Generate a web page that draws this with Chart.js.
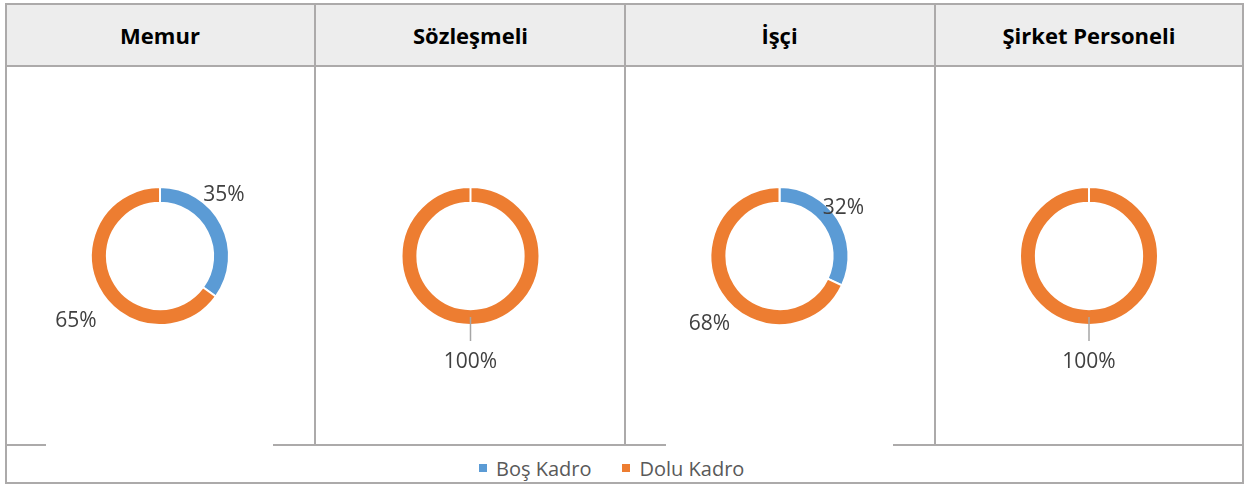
<!DOCTYPE html>
<html lang="tr">
<head>
<meta charset="UTF-8">
<title>Kadro Durumu</title>
<script src="https://cdn.jsdelivr.net/npm/chart.js"></script>
<style>
  body { margin: 0; background: #fff; font-family: "Open Sans", sans-serif; }
  #wrap { position: relative; width: 1244px; height: 486px; overflow: hidden; }
  .abs { position: absolute; }
  .line { position: absolute; background: #acaaaa; }
  .head { position: absolute; top: 5px; height: 60px; display: flex; align-items: center; justify-content: center;
          font-weight: bold; font-size: 22px; color: #000; }
  #legend { position: absolute; left: 479px; top: 454px; height: 28px; display: flex; align-items: center;
            font-size: 20px; color: #595959; }
  #legend .item { display: flex; align-items: center; margin-right: 31px; }
  #legend .sw { width: 8px; height: 8px; margin-right: 9px; }
</style>
</head>
<body>
<div id="wrap">
  <div class="abs" style="left:7px;top:5px;width:1235px;height:60px;background:#ededed"></div>
  <div class="abs" style="left:5px;top:3px;width:1239px;height:481px;border:2px solid #acaaaa;box-sizing:border-box"></div>
  <div class="line" style="left:7px;top:65px;width:1235px;height:2px"></div>
  <div class="line" style="left:7px;top:444px;width:39px;height:2px"></div>
  <div class="line" style="left:273px;top:444px;width:393px;height:2px"></div>
  <div class="line" style="left:893px;top:444px;width:349px;height:2px"></div>
  <div class="line" style="left:314px;top:5px;width:2px;height:441px"></div>
  <div class="line" style="left:624px;top:5px;width:2px;height:441px"></div>
  <div class="line" style="left:934px;top:5px;width:2px;height:441px"></div>
  <div id="legend"></div>
</div>
<script>
  const panelTitles = ['Memur', 'Sözleşmeli', 'İşçi', 'Şirket Personeli'];
  const categories = ['Boş Kadro', 'Dolu Kadro'];
  const bosKadro = [35, 0, 32, 0];     // %
  const doluKadro = [65, 100, 68, 100]; // %
  const colors = ['#5B9BD5', '#ED7D31'];

  // panel cells [left, width] and where Excel put the % labels (relative to ring centre)
  const cells = [[6, 308], [316, 309], [625, 309], [936, 306]];
  const labelOffsets = [
    [[64, -63], [-84, 63]],
    [null, [0, 104]],
    [[64, -50], [-70, 66]],
    [null, [0, 104]]
  ];

  const pctLabels = {
    id: 'pctLabels',
    afterDatasetsDraw(chart, args, opts) {
      const ctx = chart.ctx;
      const meta = chart.getDatasetMeta(0);
      const data = chart.data.datasets[0].data;
      ctx.save();
      ctx.font = '21px "Open Sans"';
      ctx.fillStyle = '#404040';
      ctx.textAlign = 'center';
      ctx.textBaseline = 'alphabetic';
      meta.data.forEach((arc, i) => {
        const off = opts.offsets[i];
        if (!data[i] || !off) return;
        if (data[i] === 100) {
          // leader line from the ring down to the label
          ctx.strokeStyle = '#a6a6a6';
          ctx.lineWidth = 1.5;
          ctx.beginPath();
          ctx.moveTo(arc.x, arc.y + 61);
          ctx.lineTo(arc.x, arc.y + 85);
          ctx.stroke();
        }
        ctx.fillText(data[i] + '%', arc.x + off[0], arc.y + off[1] + 7.5);
      });
      ctx.restore();
    }
  };

  const wrap = document.getElementById('wrap');

  panelTitles.forEach((title, p) => {
    const [left, width] = cells[p];

    const head = document.createElement('div');
    head.className = 'head';
    head.style.left = left + 'px';
    head.style.width = width + 'px';
    head.textContent = title;
    wrap.appendChild(head);

    const cv = document.createElement('canvas');
    cv.className = 'abs';
    cv.style.left = left + 'px';
    cv.style.top = '67px';
    cv.width = width;
    cv.height = 378;
    wrap.appendChild(cv);

    new Chart(cv.getContext('2d'), {
      type: 'doughnut',
      data: {
        labels: categories,
        datasets: [{
          data: [bosKadro[p], doluKadro[p]],
          backgroundColor: colors,
          borderColor: '#ffffff',
          borderWidth: 2
        }]
      },
      options: {
        responsive: false,
        animation: false,
        events: [],
        radius: 69,
        cutout: '77%',
        plugins: {
          legend: { display: false },
          tooltip: { enabled: false },
          pctLabels: { offsets: labelOffsets[p] }
        }
      },
      plugins: [pctLabels]
    });
  });

  const legend = document.getElementById('legend');
  categories.forEach((name, i) => {
    const item = document.createElement('div');
    item.className = 'item';
    item.innerHTML = '<span class="sw" style="background:' + colors[i] + '"></span><span>' + name + '</span>';
    legend.appendChild(item);
  });
</script>
</body>
</html>
